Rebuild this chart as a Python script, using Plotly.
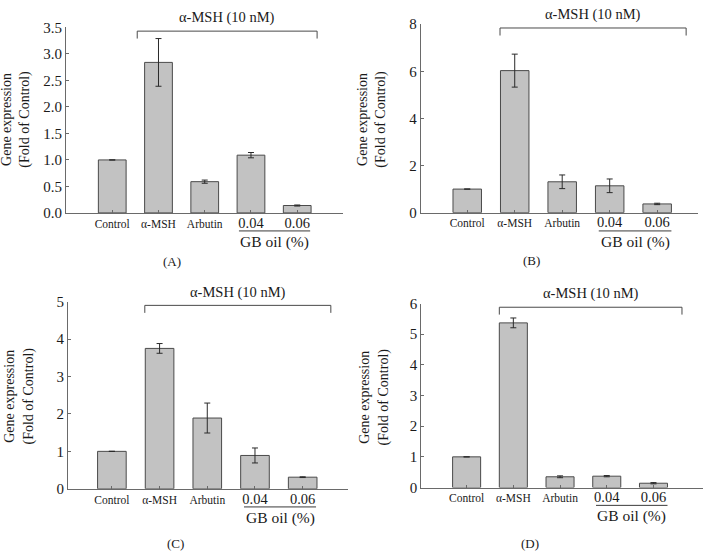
import plotly.graph_objects as go

W, H = 709, 557
categories = ["Control", "α-MSH", "Arbutin", "0.04", "0.06"]
tick_labels = ["Control", "α-MSH", "Arbutin",
               "<span style='font-size:14.5px'>0.04</span>",
               "<span style='font-size:14.5px'>0.06</span>"]

vals_A = [1.0, 2.84, 0.59, 1.09, 0.14]
err_A = [None, 0.45, 0.03, 0.05, 0.01]
vals_B = [1.0, 6.03, 1.31, 1.14, 0.37]
err_B = [None, 0.70, 0.29, 0.29, 0.03]
vals_C = [1.0, 3.75, 1.89, 0.89, 0.31]
err_C = [None, 0.13, 0.40, 0.20, 0.01]
vals_D = [1.0, 5.37, 0.35, 0.37, 0.14]
err_D = [None, 0.16, 0.03, 0.02, 0.02]

panel_names = ["(A)", "(B)", "(C)", "(D)"]
bracket_label = "α-MSH (10 nM)"
group_label = "GB oil (%)"
y_title_1 = "Gene expression"
y_title_2 = "(Fold of Control)"

FONT = "Liberation Serif"
TXT = "#1a1a1a"
AX = "#6a6a6a"

panels = [
    dict(v=vals_A, e=err_A, xd=(66, 343), yd=(20, 211), xr=(-1.0, 4.99), yr=(0, 3.5), dt=0.5, fmt=".1f",
         bx=(0.54, 4.43), lab=(172, 261), yt=(16, 115), gb=(2.74, 4.28)),
    dict(v=vals_B, e=err_B, xd=(420.7, 698), yd=(16.7, 210.7), xr=(-0.98, 4.86), yr=(0, 8), dt=2, fmt="d",
         bx=(0.69, 4.61), lab=(531, 260), yt=(372, 115), gb=(2.77, 4.30)),
    dict(v=vals_C, e=err_C, xd=(68, 348), yd=(302.3, 495), xr=(-0.92, 4.95), yr=(0, 5), dt=1, fmt="d",
         bx=(0.69, 4.59), lab=(175, 551), yt=(19, 400), gb=(2.77, 4.28)),
    dict(v=vals_D, e=err_D, xd=(421.3, 703), yd=(304.3, 493.7), xr=(-0.97, 5.06), yr=(0, 6), dt=1, fmt="d",
         bx=(0.70, 4.61), lab=(530, 551), yt=(374, 400), gb=(2.77, 4.30)),
]

fig = go.Figure()
shapes = []
annotations = []
xs = list(range(len(categories)))

for i, p in enumerate(panels):
    n = "" if i == 0 else str(i + 1)
    xa, ya = "x" + n, "y" + n
    fig.add_trace(go.Bar(
        x=xs, y=p["v"], xaxis=xa, yaxis=ya, width=0.6,
        marker=dict(color="#c2c2c2", line=dict(color="#4a4a4a", width=1)),
        error_y=dict(type="data", array=p["e"], visible=True, color="#2a2a2a",
                     thickness=1, width=3),
        showlegend=False, hoverinfo="skip"))
    xd = (p["xd"][0] / W, p["xd"][1] / W)
    yd = (1 - p["yd"][1] / H, 1 - p["yd"][0] / H)
    fig.layout["xaxis" + n] = dict(
        domain=xd, range=list(p["xr"]), anchor=ya, tickvals=xs, ticktext=tick_labels,
        ticks="inside", ticklen=3, tickcolor=AX, showline=True, linecolor=AX, linewidth=1,
        showgrid=False, zeroline=False, tickfont=dict(family=FONT, size=11.5, color=TXT),
        fixedrange=True)
    fig.layout["yaxis" + n] = dict(
        domain=yd, range=list(p["yr"]), anchor=xa, dtick=p["dt"], tick0=0,
        tickformat=p["fmt"], ticks="inside", ticklen=3, tickcolor=AX,
        showline=True, linecolor=AX, linewidth=1, showgrid=False, zeroline=False,
        tickfont=dict(family=FONT, size=15, color=TXT), fixedrange=True)
    xref, yref = xa, ya + " domain"
    b0, b1 = p["bx"]
    shapes.append(dict(type="path", xref=xref, yref=yref,
                       path=f"M {b0},0.94 L {b0},0.98 L {b1},0.98 L {b1},0.94",
                       line=dict(color="#4a4a4a", width=1)))
    annotations.append(dict(x=(b0 + b1) / 2, y=0.995, xref=xref, yref=yref, text=bracket_label,
                            showarrow=False, xanchor="center", yanchor="bottom",
                            font=dict(family=FONT, size=14.5, color=TXT)))
    g0, g1 = p["gb"]
    shapes.append(dict(type="line", xref=xref, yref=yref, x0=g0, x1=g1, y0=-0.097, y1=-0.097,
                       line=dict(color="#3a3a3a", width=1)))
    annotations.append(dict(x=(g0 + g1) / 2, y=-0.095, xref=xref, yref=yref, text=group_label,
                            showarrow=False, xanchor="center", yanchor="top",
                            font=dict(family=FONT, size=15.5, color=TXT)))
    lx, ly = p["lab"]
    annotations.append(dict(x=lx / W, y=1 - ly / H, xref="paper", yref="paper",
                            text=panel_names[i], showarrow=False,
                            xanchor="center", yanchor="middle",
                            font=dict(family=FONT, size=13, color=TXT)))
    tx, ty = p["yt"]
    annotations.append(dict(x=tx / W, y=1 - ty / H, xref="paper", yref="paper",
                            text=y_title_1 + "<br>" + y_title_2, textangle=-90,
                            showarrow=False, align="center",
                            xanchor="center", yanchor="middle",
                            font=dict(family=FONT, size=14, color=TXT)))

fig.update_layout(width=W, height=H, margin=dict(l=0, r=0, t=0, b=0),
                  paper_bgcolor="white", plot_bgcolor="white",
                  shapes=shapes, annotations=annotations, bargap=0.4)
fig.write_html("out.html")
